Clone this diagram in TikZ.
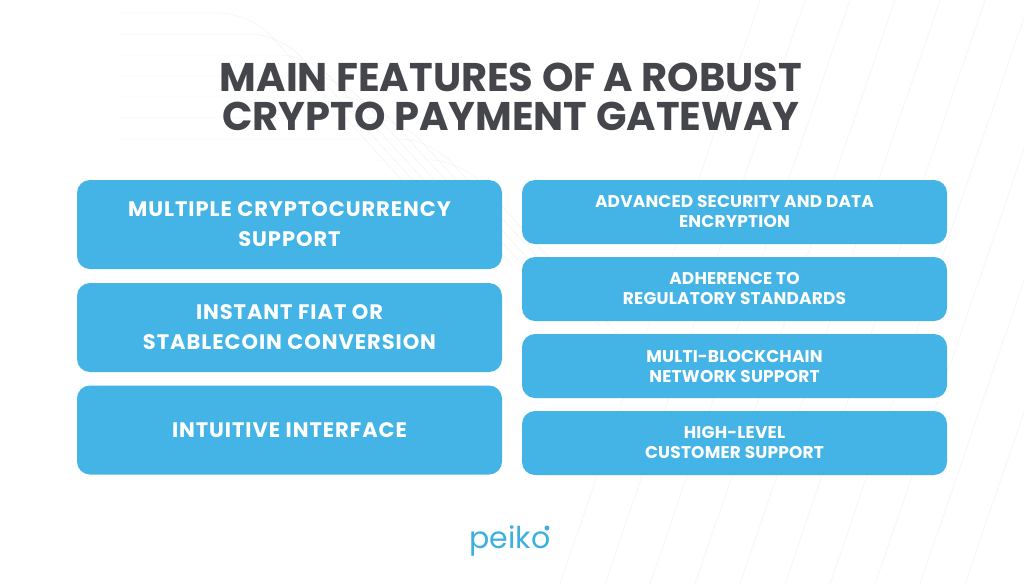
\documentclass[tikz,border=0pt]{standalone}
\usepackage{fontspec}
\setmainfont{Poppins}
\definecolor{featblue}{HTML}{43B4E5}
\definecolor{titlegray}{HTML}{45464C}
\definecolor{logoblue}{HTML}{3DB0E0}
\definecolor{bgline}{HTML}{EEF0F4}

\begin{document}
\begin{tikzpicture}[x=1pt, y=-1pt]
\tikzset{bigbox/.style={fill=featblue, rounded corners=13pt, text=white, align=center,
    minimum width=425pt, minimum height=89pt, inner sep=0pt,
    font=\fontsize{21}{30}\selectfont\bfseries\addfontfeatures{LetterSpace=4.5}},
  smallbox/.style={bigbox, minimum height=64pt,
    font=\fontsize{17}{20}\selectfont\bfseries\addfontfeatures{LetterSpace=1}}}
\useasboundingbox[fill=white] (0, 0) rectangle (1024, 584);
% faint background lines
\foreach \i in {0,...,7}
  \draw[bgline, rounded corners=30pt] (120, 13+21*\i) -- (250+30*\i, 13+21*\i) -- (420+30*\i, 200+21*\i);
\foreach \i in {0,...,9}
  \draw[bgline] (560+45*\i, 584) -- (760+45*\i, 0);
% title
\node[text=titlegray, align=center, font=\fontsize{40}{39}\selectfont\bfseries] (title) at (511, 97) {MAIN FEATURES OF A ROBUST\\CRYPTO PAYMENT GATEWAY};
% left column
\node[bigbox] (L1) at (289.5, 224.5) {MULTIPLE CRYPTOCURRENCY\\SUPPORT};
\node[bigbox] (L2) at (289.5, 327.5) {INSTANT FIAT OR\\STABLECOIN CONVERSION};
\node[bigbox] (L3) at (289.5, 430) {INTUITIVE INTERFACE};
% right column
\node[smallbox] (R1) at (734.5, 212) {ADVANCED SECURITY AND DATA\\ENCRYPTION};
\node[smallbox] (R2) at (734.5, 289) {ADHERENCE TO\\REGULATORY STANDARDS};
\node[smallbox] (R3) at (734.5, 366) {MULTI-BLOCKCHAIN\\NETWORK SUPPORT};
\node[smallbox] (R4) at (734.5, 443) {HIGH-LEVEL\\CUSTOMER SUPPORT};
% logo
\node[text=logoblue, font=\fontsize{30}{30}\selectfont] (logo) at (510, 541) {peiko};
\fill[logoblue] (logo.east) ++(-7, -13) circle (2.5pt);
\end{tikzpicture}
\end{document}
